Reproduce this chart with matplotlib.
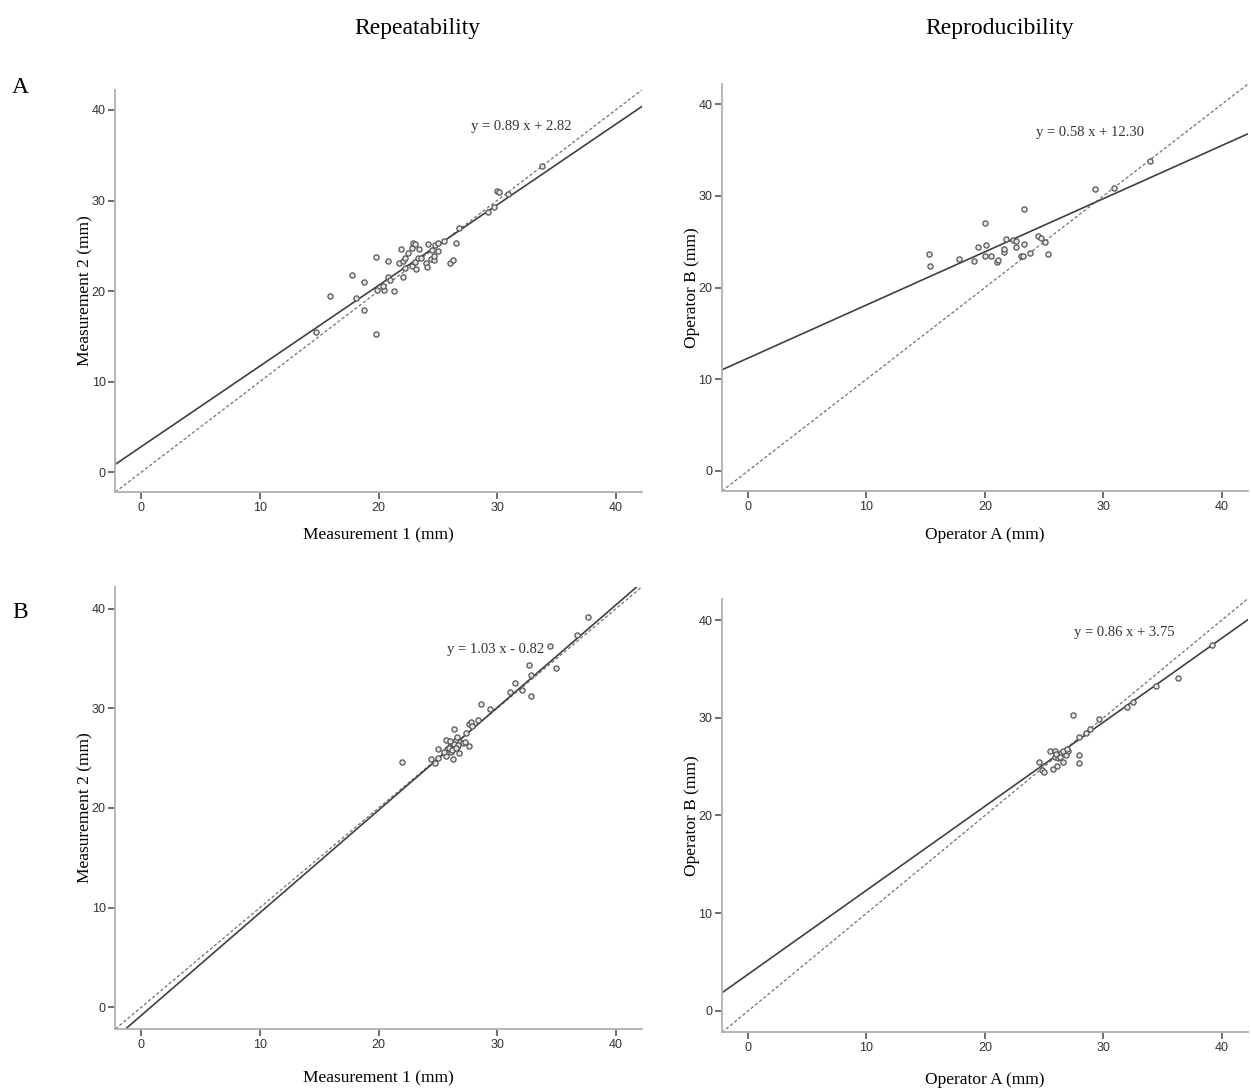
import matplotlib
matplotlib.use("Agg")
import matplotlib.pyplot as plt
import numpy as np

# panel A, repeatability: measurement 1 vs measurement 2 (mm)
a1_x = [14.7, 15.9, 17.8, 18.1, 18.8, 18.8, 19.8, 19.8, 19.9, 20.5, 20.8, 20.4, 20.8,
        21.0, 21.3, 21.7, 21.9, 22.1, 22.1, 22.2, 22.2, 22.5, 22.8, 22.9, 23.1, 22.8,
        23.1, 23.2, 23.3, 23.4, 23.6, 24.0, 24.1, 24.2, 24.4, 24.5, 24.7, 24.7, 24.8,
        25.0, 25.0, 25.5, 26.0, 26.3, 26.5, 26.8, 29.2, 29.7, 30.0, 30.2, 30.9, 33.8]
a1_y = [15.5, 19.4, 21.8, 19.2, 21.0, 17.9, 15.3, 23.8, 20.1, 20.1, 21.6, 20.6, 23.3,
        21.2, 20.0, 23.1, 24.6, 23.3, 21.6, 23.7, 22.5, 24.2, 24.7, 25.3, 25.2, 22.8,
        23.2, 22.4, 23.7, 24.6, 23.7, 23.1, 22.6, 25.2, 23.5, 24.5, 23.4, 23.9, 25.1,
        24.4, 25.3, 25.5, 23.1, 23.4, 25.3, 27.0, 28.7, 29.3, 31.0, 30.9, 30.7, 33.8]

# panel A, reproducibility: operator A vs operator B (mm)
a2_x = [15.3, 15.4, 17.8, 19.1, 19.4, 20.0, 20.1, 20.0, 20.5, 21.0, 21.1, 21.6, 21.6,
        21.8, 22.4, 22.6, 22.6, 23.3, 23.3, 23.0, 23.2, 23.8, 24.5, 24.7, 25.1, 25.3,
        29.3, 30.9, 33.9]
a2_y = [23.7, 22.3, 23.1, 22.9, 24.4, 27.0, 24.6, 23.4, 23.4, 22.8, 23.0, 23.9, 24.2,
        25.3, 25.2, 25.1, 24.4, 24.8, 28.6, 23.4, 23.4, 23.8, 25.6, 25.4, 25.0, 23.7,
        30.7, 30.9, 33.8]

# panel B, repeatability
b1_x = [22.0, 24.4, 24.8, 25.0, 25.0, 25.7, 25.7, 25.8, 26.0, 26.2, 26.3, 26.3, 26.4,
        26.5, 26.6, 26.6, 26.8, 26.9, 27.1, 27.3, 27.6, 27.4, 27.6, 27.8, 27.9, 28.4,
        28.6, 29.4, 31.1, 31.5, 32.1, 32.7, 32.9, 32.9, 34.5, 35.0, 36.7, 37.7,
        25.9, 26.1, 26.4, 26.0, 26.7, 26.2, 25.5, 26.5]
b1_y = [24.6, 24.9, 24.5, 25.0, 25.9, 26.8, 25.2, 25.9, 26.2, 26.5, 24.9, 25.9, 27.9,
        26.8, 27.1, 26.1, 25.5, 26.6, 26.5, 26.6, 26.2, 27.5, 28.4, 28.6, 28.2, 28.8,
        30.4, 29.9, 31.7, 32.6, 31.9, 34.4, 33.4, 31.2, 36.3, 34.1, 37.4, 39.2,
        26.0, 25.6, 26.4, 26.7, 26.3, 25.8, 25.6, 26.0]

# panel B, reproducibility
b2_x = [24.6, 24.8, 25.0, 25.5, 25.7, 25.9, 25.9, 26.1, 26.2, 26.4, 26.6, 26.6, 26.8,
        27.0, 27.4, 27.9, 27.9, 27.9, 28.5, 28.9, 29.6, 32.0, 32.5, 34.4, 36.3, 39.2,
        26.0, 26.3, 26.9]
b2_y = [25.5, 24.7, 24.5, 26.6, 24.8, 26.6, 26.0, 25.1, 25.9, 26.4, 25.5, 26.6, 26.2,
        26.6, 30.3, 28.0, 26.2, 25.4, 28.4, 28.9, 29.9, 31.1, 31.6, 33.3, 34.1, 37.4,
        26.3, 26.0, 26.8]

fits = [(0.89, 2.82), (0.58, 12.30), (1.03, -0.82), (0.86, 3.75)]
eq_text = ["y = 0.89 x + 2.82", "y = 0.58 x + 12.30", "y = 1.03 x - 0.82", "y = 0.86 x + 3.75"]
eq_pos = [(32.0, 38.2), (28.9, 36.9), (29.9, 35.9), (31.8, 38.7)]
xlabels = ["Measurement 1 (mm)", "Operator A (mm)", "Measurement 1 (mm)", "Operator A (mm)"]
ylabels = ["Measurement 2 (mm)", "Operator B (mm)", "Measurement 2 (mm)", "Operator B (mm)"]

serif = "Liberation Serif"
tickfont = ["Liberation Sans Narrow", "Liberation Sans", "DejaVu Sans"]

fig = plt.figure(figsize=(12.51, 10.89), dpi=100)
boxes = [[0.0922, 0.5482, 0.4208, 0.3691],
         [0.5771, 0.5491, 0.4205, 0.3737],
         [0.0922, 0.0551, 0.4208, 0.4059],
         [0.5771, 0.0519, 0.4205, 0.3985]]
xpads = [10, 10, 14, 13]
data = [(a1_x, a1_y), (a2_x, a2_y), (b1_x, b1_y), (b2_x, b2_y)]

lo, hi = -2.2, 42.2
for i in range(4):
    ax = fig.add_axes(boxes[i])
    xs, ys = data[i]
    m, c = fits[i]
    xx = np.array([lo, hi])
    ax.plot(xx, xx, linestyle=(0, (2.5, 1.8)), color="#707070", linewidth=0.9)
    ax.plot(xx, m * xx + c, color="#404040", linewidth=1.2)
    ax.scatter(xs, ys, s=14, facecolors="#e6e6e6", edgecolors="#555555", linewidths=0.9, zorder=3)
    ax.set_xlim(lo, hi)
    ax.set_ylim(lo, hi)
    ax.set_xticks([0, 10, 20, 30, 40])
    ax.set_yticks([0, 10, 20, 30, 40])
    for s in ["top", "right"]:
        ax.spines[s].set_visible(False)
    for s in ["left", "bottom"]:
        ax.spines[s].set_color("#b5b5b5")
        ax.spines[s].set_linewidth(1.4)
    ax.tick_params(direction="out", length=5, width=1.2, color="#555555",
                   labelsize=9, labelcolor="#333333", pad=2)
    for lab in ax.get_xticklabels() + ax.get_yticklabels():
        lab.set_family(tickfont)
    ax.set_xlabel(xlabels[i], fontfamily=serif, fontsize=12.5, labelpad=xpads[i])
    ax.set_ylabel(ylabels[i], fontfamily=serif, fontsize=12.5, labelpad=-1)
    ax.text(eq_pos[i][0], eq_pos[i][1], eq_text[i], fontfamily=serif, fontsize=10.5,
            color="#333333", ha="center", va="center")

fig.text(0.334, 0.974, "Repeatability", fontfamily=serif, fontsize=17, ha="center", va="center")
fig.text(0.799, 0.974, "Reproducibility", fontfamily=serif, fontsize=17, ha="center", va="center")
fig.text(0.016, 0.920, "A", fontfamily=serif, fontsize=17, ha="center", va="center")
fig.text(0.016, 0.438, "B", fontfamily=serif, fontsize=17, ha="center", va="center")

fig.savefig("out.png", dpi=100)
